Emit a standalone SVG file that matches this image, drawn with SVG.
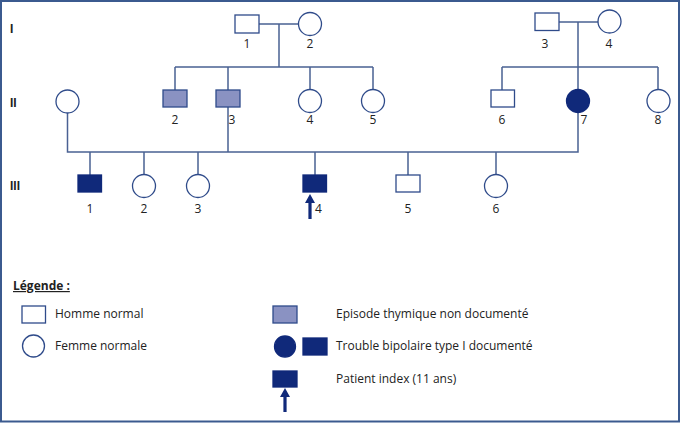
<svg xmlns="http://www.w3.org/2000/svg" width="680" height="423" viewBox="0 0 680 423">
<style>
.m{fill:#fff;stroke:#2f4b8a;stroke-width:1.3}
.lt{fill:#8a92c2;stroke:#2f4b8a;stroke-width:1.3}
.dk{fill:#10297a;stroke:#10297a;stroke-width:1.3}
.ln{fill:none;stroke:#4a6193;stroke-width:1.5}
.t{font-family:"Open Sans","Liberation Sans",sans-serif;font-size:12px;fill:#222}
.n{font-family:"Open Sans","Liberation Sans",sans-serif;font-size:12px;fill:#222;text-anchor:middle}
.g{font-family:"Liberation Sans",sans-serif;font-size:12px;font-weight:bold;fill:#222}
.ar{fill:#10297a}
</style>
<rect x="1" y="1" width="678" height="420.5" fill="#fff" stroke="#3b5a8f" stroke-width="2"/>
<g id="gen-labels">
<text class="g" x="10" y="33">I</text>
<text class="g" x="10" y="107">II</text>
<text class="g" x="10" y="190">III</text>
</g>
<g id="connectors">
<path class="ln" d="M259 24H298M279 24V67M175 67H373M175 67V90M228 67V90M310 67V89M373 67V89"/>
<path class="ln" d="M559 22H598M578 22V89.5M502 67H658M502 67V90M658 67V89.5"/>
<path class="ln" d="M67.5 113V152H578V113M228 107V152"/>
<path class="ln" d="M90 152V175M144 152V174.5M198 152V174.5M315 152V175M408 152V175M496 152V174.5"/>
</g>
<g id="I-1"><rect class="m" x="235" y="15" width="24" height="18"/><text class="n" x="247" y="48">1</text></g>
<g id="I-2"><circle class="m" cx="310" cy="24" r="11.5"/><text class="n" x="310" y="48">2</text></g>
<g id="I-3"><rect class="m" x="535" y="13" width="24" height="17.5"/><text class="n" x="545" y="48">3</text></g>
<g id="I-4"><circle class="m" cx="609.5" cy="21.5" r="11.5"/><text class="n" x="609" y="48">4</text></g>
<g id="II-1"><circle class="m" cx="67.5" cy="101.5" r="11.5"/></g>
<g id="II-2"><rect class="lt" x="163" y="90" width="24" height="17"/><text class="n" x="175" y="124">2</text></g>
<g id="II-3"><rect class="lt" x="216" y="90" width="24" height="17"/><text class="n" x="232" y="124">3</text></g>
<g id="II-4"><circle class="m" cx="310" cy="101" r="11.5"/><text class="n" x="310" y="124">4</text></g>
<g id="II-5"><circle class="m" cx="373" cy="101" r="11.5"/><text class="n" x="373" y="124">5</text></g>
<g id="II-6"><rect class="m" x="491" y="90" width="23.5" height="17"/><text class="n" x="502" y="124">6</text></g>
<g id="II-7"><circle class="dk" cx="578" cy="101" r="11.5"/><text class="n" x="584" y="124">7</text></g>
<g id="II-8"><circle class="m" cx="658.5" cy="101" r="11.5"/><text class="n" x="658" y="124">8</text></g>
<g id="III-1"><rect class="dk" x="78" y="175" width="23.5" height="17"/><text class="n" x="90" y="213">1</text></g>
<g id="III-2"><circle class="m" cx="144" cy="186" r="11.5"/><text class="n" x="144" y="213">2</text></g>
<g id="III-3"><circle class="m" cx="198" cy="186" r="11.5"/><text class="n" x="198" y="213">3</text></g>
<g id="III-4"><rect class="dk" x="303" y="175" width="23.5" height="17"/><text class="n" x="318.5" y="213">4</text>
<path class="ar" d="M310 194L315 203H311.6V219H308.4V203H305Z"/></g>
<g id="III-5"><rect class="m" x="396" y="175" width="24" height="17"/><text class="n" x="408" y="213">5</text></g>
<g id="III-6"><circle class="m" cx="496" cy="186" r="11.5"/><text class="n" x="496" y="213">6</text></g>
<g id="legend">
<text class="t" x="13" y="290" font-weight="bold" text-decoration="underline">Légende :</text>
<rect class="m" x="22" y="306" width="23.5" height="17"/>
<text class="t" x="55" y="318">Homme normal</text>
<circle class="m" cx="33.5" cy="346" r="11"/>
<text class="t" x="55" y="350">Femme normale</text>
<rect class="lt" x="273" y="306" width="24" height="17"/>
<text class="t" x="336" y="318">Episode thymique non documenté</text>
<circle class="dk" cx="285" cy="346.5" r="10.5"/>
<rect class="dk" x="303" y="338" width="24" height="17"/>
<text class="t" x="336" y="350">Trouble bipolaire type I documenté</text>
<rect class="dk" x="273" y="371" width="24" height="16"/>
<path class="ar" d="M285 388L290 397H286.6V412H283.4V397H280Z"/>
<text class="t" x="336" y="383">Patient index (11 ans)</text>
</g>
</svg>
